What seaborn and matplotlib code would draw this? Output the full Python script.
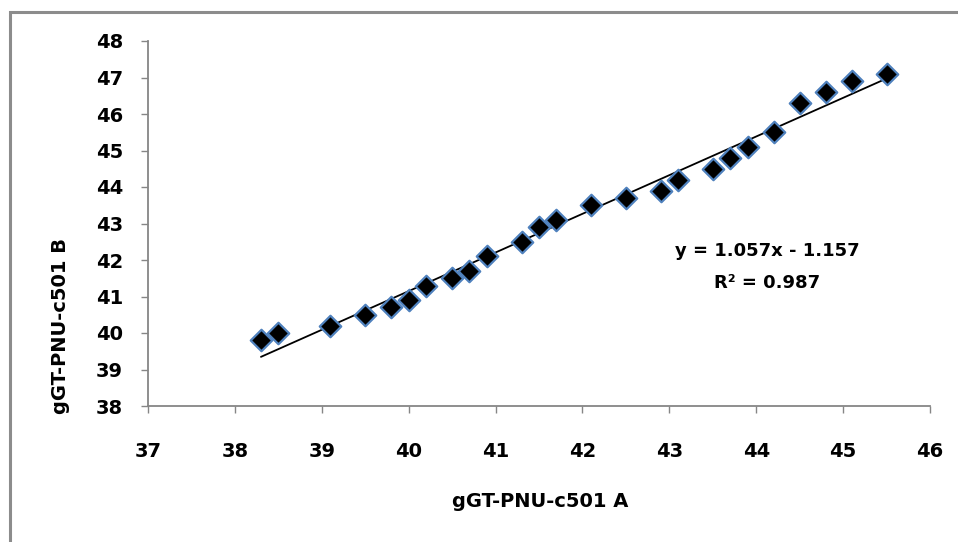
import matplotlib
matplotlib.use("Agg")
import matplotlib.pyplot as plt
from matplotlib.patches import Rectangle
import seaborn as sns
import pandas as pd

# ---- data ----
x_a = [38.3, 38.5, 39.1, 39.5, 39.8, 40.0, 40.2, 40.5, 40.7, 40.9, 41.3, 41.5, 41.7,
       42.1, 42.5, 42.9, 43.1, 43.5, 43.7, 43.9, 44.2, 44.5, 44.8, 45.1, 45.5]
y_b = [39.8, 40.0, 40.2, 40.5, 40.7, 40.9, 41.3, 41.5, 41.7, 42.1, 42.5, 42.9, 43.1,
       43.5, 43.7, 43.9, 44.2, 44.5, 44.8, 45.1, 45.5, 46.3, 46.6, 46.9, 47.1]
x_ticks = [37, 38, 39, 40, 41, 42, 43, 44, 45, 46]
y_ticks = [38, 39, 40, 41, 42, 43, 44, 45, 46, 47, 48]
x_label = "gGT-PNU-c501 A"
y_label = "gGT-PNU-c501 B"
eq_line1 = "y = 1.057x - 1.157"
eq_line2 = "R² = 0.987"

df = pd.DataFrame({"A": x_a, "B": y_b})

sns.set_theme(style="white")
plt.rcParams["font.family"] = ["DejaVu Sans"]

fig = plt.figure(figsize=(9.58, 5.42), dpi=100)
ax = fig.add_axes([148 / 958, 1 - 406 / 542, (930 - 148) / 958, (406 - 41) / 542])

# outer chart frame (partially cropped in the reference)
fig.patches.append(Rectangle((10 / 958, -0.2), 1.5, 1.2 - 12 / 542,
                             transform=fig.transFigure, fill=False,
                             edgecolor="#8c8c8c", linewidth=2.2, zorder=0))

sns.regplot(data=df, x="A", y="B", ax=ax, scatter=False, ci=None, truncate=True,
            line_kws={"color": "black", "linewidth": 1.3, "zorder": 2})
sns.scatterplot(data=df, x="A", y="B", ax=ax, marker="D", color="black",
                edgecolor="#4F81BD", linewidth=1.6, s=120, zorder=3)

ax.set_xlim(37, 46)
ax.set_ylim(38, 48)
ax.set_xticks(x_ticks)
ax.set_yticks(y_ticks)
ax.set_xticklabels([str(t) for t in x_ticks])
ax.set_yticklabels([str(t) for t in y_ticks])
ax.tick_params(axis="both", direction="out", length=5, width=1, color="#868686",
               bottom=True, left=True, labelsize=14, labelcolor="black")
ax.tick_params(axis="x", pad=21)
ax.tick_params(axis="y", pad=13)
for lab in ax.get_xticklabels() + ax.get_yticklabels():
    lab.set_fontweight("bold")

for side in ["top", "right"]:
    ax.spines[side].set_visible(False)
for side in ["left", "bottom"]:
    ax.spines[side].set_color("#868686")
    ax.spines[side].set_linewidth(1.3)

ax.set_xlabel(x_label, fontsize=14, fontweight="bold", color="black")
ax.set_ylabel(y_label, fontsize=14, fontweight="bold", color="black")
ax.xaxis.set_label_coords((540 - 148) / 782, (406 - 502) / 365)
ax.xaxis.label.set_verticalalignment("center")
ax.yaxis.set_label_coords((60 - 148) / 782, (406 - 326) / 365)
ax.yaxis.label.set_verticalalignment("center")

ax.text(44.13, 42.25, eq_line1, ha="center", va="center", fontsize=13,
        fontweight="bold", color="black")
ax.text(44.13, 41.37, eq_line2, ha="center", va="center", fontsize=13,
        fontweight="bold", color="black")

fig.savefig("out.png", dpi=100)
